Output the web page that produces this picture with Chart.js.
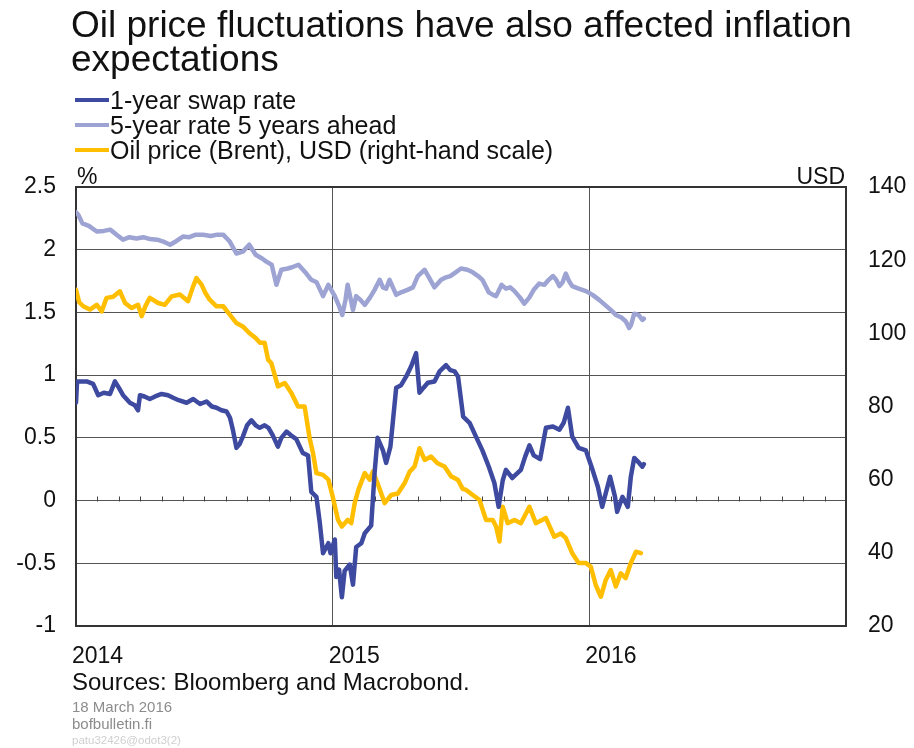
<!DOCTYPE html>
<html>
<head>
<meta charset="utf-8">
<title>Oil price fluctuations have also affected inflation expectations</title>
<script src="https://cdn.jsdelivr.net/npm/chart.js@4.4.0/dist/chart.umd.min.js"></script>
<style>
  body { margin: 0; background: #fff; font-family: "Liberation Sans", Arial, sans-serif; color: #111; }
  #wrap { position: relative; width: 914px; height: 748px; overflow: hidden; }
  #chart { position: absolute; left: 0; top: 0; }
  .txt { position: absolute; white-space: nowrap; }
  #title { left: 71px; top: 8px; font-size: 37px; line-height: 34px; }
  .leg { left: 110px; font-size: 25px; line-height: 25px; }
  .swatch { position: absolute; left: 75px; width: 34px; height: 4px; }
  .unit { top: 165px; font-size: 23px; line-height: 23px; }
  #sources { left: 72px; top: 670px; font-size: 24px; line-height: 24px; }
  .note { left: 72px; font-size: 15px; line-height: 18px; color: #8c8c8c; }
  #code { left: 72px; top: 733px; font-size: 11.5px; line-height: 14px; color: #cfcfcf; }
</style>
</head>
<body>
<div id="wrap">
  <canvas id="chart" width="914" height="748"></canvas>
  <div id="title" class="txt">Oil price fluctuations have also affected inflation<br>expectations</div>
  <div class="swatch" style="top:98px;background:#3d4a9f"></div>
  <div class="txt leg" style="top:88px">1-year swap rate</div>
  <div class="swatch" style="top:123px;background:#9da3d3"></div>
  <div class="txt leg" style="top:113px">5-year rate 5 years ahead</div>
  <div class="swatch" style="top:148px;background:#ffbe00"></div>
  <div class="txt leg" style="top:138px">Oil price (Brent), USD (right-hand scale)</div>
  <div class="txt unit" style="left:77px">%</div>
  <div class="txt unit" style="right:69px">USD</div>
  <div id="sources" class="txt">Sources: Bloomberg and Macrobond.</div>
  <div class="txt note" style="top:698px">18 March 2016</div>
  <div class="txt note" style="top:715px">bofbulletin.fi</div>
  <div id="code" class="txt">patu32426@odot3(2)</div>
</div>
<script>
// months counted from January 2014
const yearLabels = ['2014', '2015', '2016', ''];

// 1-year swap rate, %
const swapMonths = [0.00, 0.05, 0.5, 0.8, 1.04, 1.3, 1.59, 1.82, 2.0, 2.2, 2.52, 2.75, 2.9, 2.99, 3.2, 3.45, 3.7, 4.0, 4.3, 4.54,
  4.8, 5.17, 5.48, 5.8, 6.1, 6.35, 6.57, 6.8, 7.04, 7.2, 7.34, 7.5, 7.65, 7.8, 8.0, 8.2, 8.4, 8.59, 8.82, 9.0,
  9.2, 9.44, 9.6, 9.84, 10.05, 10.3, 10.6, 10.85, 11.0, 11.24, 11.4, 11.55, 11.8, 11.9, 12.1, 12.17, 12.3, 12.43, 12.56, 12.8,
  12.95, 13.1, 13.34, 13.5, 13.8, 13.96, 14.1, 14.35, 14.5, 14.7, 14.97, 15.2, 15.44, 15.67, 15.9, 16.06, 16.25, 16.45, 16.76, 17.0,
  17.3, 17.5, 17.7, 17.86, 18.1, 18.4, 18.7, 19.0, 19.3, 19.56, 19.76, 19.95, 20.1, 20.4, 20.8, 21.0, 21.2, 21.4, 21.7, 21.97,
  22.3, 22.6, 22.8, 23.0, 23.2, 23.5, 23.84, 24.15, 24.4, 24.6, 24.97, 25.2, 25.3, 25.55, 25.8, 25.94, 26.1, 26.33, 26.48, 26.55];
const swapRate = [0.78, 0.95, 0.95, 0.93, 0.84, 0.86, 0.85, 0.95, 0.90, 0.84, 0.78, 0.76, 0.72, 0.84, 0.83, 0.81, 0.83, 0.85, 0.84, 0.82,
  0.80, 0.78, 0.81, 0.77, 0.79, 0.75, 0.74, 0.72, 0.71, 0.66, 0.56, 0.42, 0.45, 0.51, 0.60, 0.64, 0.60, 0.58, 0.60, 0.58,
  0.52, 0.43, 0.50, 0.55, 0.52, 0.49, 0.38, 0.36, 0.07, 0.03, -0.18, -0.42, -0.34, -0.42, -0.31, -0.61, -0.55, -0.77, -0.56, -0.51,
  -0.67, -0.37, -0.34, -0.26, -0.20, 0.22, 0.50, 0.40, 0.30, 0.43, 0.90, 0.92, 0.99, 1.07, 1.175, 0.86, 0.90, 0.94, 0.95, 1.03,
  1.08, 1.04, 1.03, 0.99, 0.67, 0.62, 0.51, 0.40, 0.27, 0.14, -0.05, 0.16, 0.245, 0.18, 0.245, 0.35, 0.44, 0.36, 0.33, 0.58,
  0.59, 0.565, 0.62, 0.74, 0.51, 0.42, 0.40, 0.245, 0.11, -0.05, 0.19, 0.03, -0.09, 0.03, -0.05, 0.19, 0.34, 0.30, 0.27, 0.29];

// 5-year rate 5 years ahead, %
const fwdMonths = [0.0, 0.1, 0.3, 0.6, 0.97, 1.3, 1.6, 1.9, 2.2, 2.5, 2.83, 3.15, 3.46, 3.8, 4.08, 4.4, 4.7, 5.0, 5.3, 5.6,
  5.94, 6.3, 6.6, 6.88, 7.19, 7.5, 7.8, 8.1, 8.4, 8.7, 8.9, 9.15, 9.37, 9.6, 9.9, 10.1, 10.4, 10.77, 11.0, 11.25,
  11.55, 11.8, 12.1, 12.3, 12.45, 12.6, 12.7, 12.95, 13.1, 13.3, 13.5, 13.75, 13.96, 14.2, 14.35, 14.5, 14.66, 14.97, 15.2, 15.5,
  15.75, 15.98, 16.3, 16.5, 16.76, 17.07, 17.3, 17.5, 17.75, 18.0, 18.3, 18.55, 18.8, 19.0, 19.3, 19.5, 19.64, 19.9, 20.1, 20.3,
  20.5, 20.75, 20.96, 21.2, 21.4, 21.66, 21.9, 22.1, 22.3, 22.45, 22.6, 22.75, 22.9, 23.05, 23.2, 23.5, 23.84, 24.15, 24.46, 24.8,
  25.0, 25.24, 25.5, 25.7, 25.86, 25.95, 26.1, 26.3, 26.48, 26.55];
const fwdRate = [2.30, 2.28, 2.21, 2.19, 2.145, 2.15, 2.16, 2.12, 2.08, 2.10, 2.09, 2.10, 2.085, 2.08, 2.065, 2.04, 2.07, 2.105, 2.10, 2.12,
  2.12, 2.11, 2.12, 2.12, 2.065, 1.97, 1.985, 2.04, 1.96, 1.93, 1.905, 1.88, 1.72, 1.84, 1.85, 1.86, 1.88, 1.81, 1.76, 1.74,
  1.63, 1.72, 1.63, 1.55, 1.48, 1.60, 1.72, 1.52, 1.63, 1.60, 1.56, 1.62, 1.68, 1.76, 1.70, 1.69, 1.76, 1.64, 1.66, 1.68,
  1.70, 1.79, 1.84, 1.78, 1.70, 1.76, 1.78, 1.79, 1.82, 1.85, 1.84, 1.82, 1.79, 1.76, 1.66, 1.64, 1.63, 1.72, 1.69, 1.70,
  1.67, 1.62, 1.57, 1.62, 1.68, 1.73, 1.72, 1.76, 1.79, 1.76, 1.71, 1.74, 1.81, 1.75, 1.71, 1.69, 1.67, 1.64, 1.60, 1.55,
  1.52, 1.48, 1.46, 1.43, 1.375, 1.40, 1.49, 1.48, 1.44, 1.45];

// Brent oil price, USD (right-hand scale)
const oilMonths = [0.0, 0.15, 0.34, 0.65, 0.97, 1.2, 1.43, 1.74, 2.05, 2.29, 2.6, 2.9, 3.07, 3.25, 3.45, 3.84, 4.15, 4.47, 4.86, 5.24,
  5.48, 5.63, 5.87, 6.05, 6.25, 6.57, 6.88, 7.19, 7.5, 7.8, 8.1, 8.4, 8.6, 8.82, 8.98, 9.13, 9.44, 9.76, 10.07, 10.38,
  10.69, 10.92, 11.08, 11.24, 11.55, 11.8, 12.0, 12.25, 12.43, 12.7, 12.87, 13.03, 13.2, 13.5, 13.73, 13.88, 14.1, 14.43, 14.74, 15.05,
  15.36, 15.6, 15.83, 16.06, 16.3, 16.6, 16.9, 17.23, 17.54, 17.85, 18.08, 18.24, 18.55, 18.86, 19.17, 19.48, 19.64, 19.8, 19.95, 20.18,
  20.5, 20.8, 21.2, 21.5, 21.97, 22.36, 22.67, 22.9, 23.2, 23.5, 23.84, 24.07, 24.3, 24.54, 24.77, 25.0, 25.24, 25.47, 25.7, 25.94,
  26.18, 26.41];
const oilPrice = [111.9, 108.5, 107.4, 106.5, 107.8, 106.0, 109.7, 110.0, 111.5, 108.3, 106.9, 107.8, 104.7, 107.5, 109.7, 108.3, 107.8, 110.1, 110.6, 108.8,
  112.9, 115.1, 113.3, 111.0, 109.2, 107.4, 107.4, 105.1, 102.8, 101.9, 100.1, 98.7, 97.4, 97.4, 92.8, 91.9, 85.5, 86.4, 83.7, 80.0,
  80.0, 71.4, 67.3, 61.8, 61.3, 60.0, 55.4, 49.0, 47.2, 49.0, 48.1, 53.6, 57.2, 61.8, 60.0, 62.2, 59.0, 53.6, 55.8, 56.2,
  59.0, 62.2, 63.6, 68.6, 65.4, 66.3, 64.5, 63.6, 60.9, 60.0, 57.5, 57.2, 55.8, 54.5, 49.0, 49.0, 47.2, 43.1, 52.6, 48.1,
  49.0, 48.1, 52.6, 48.1, 49.5, 44.4, 45.3, 44.0, 39.9, 37.2, 37.2, 36.2, 31.2, 28.0, 32.6, 35.3, 30.8, 34.4, 33.1, 37.2,
  40.3, 39.9];

const colors = { swap: '#3d4a9f', fwd: '#9da3d3', oil: '#ffbe00' };
const toPoints = (xs, ys) => xs.map((x, i) => ({ x: x, y: ys[i] }));

// frame round the plot and the small month ticks on the zero line
const plotFrame = {
  id: 'plotFrame',
  beforeDatasetsDraw(chart) {
    const { ctx, chartArea: a, scales } = chart;
    const y0 = Math.round(scales.y.getPixelForValue(0)) + 0.5;
    ctx.save();
    ctx.strokeStyle = '#444';
    ctx.lineWidth = 1;
    for (let m = 1; m < 36; m++) {
      if (m % 12 === 0) continue;
      const x = Math.round(scales.x.getPixelForValue(m)) + 0.5;
      ctx.beginPath();
      ctx.moveTo(x, y0);
      ctx.lineTo(x, y0 - 5);
      ctx.stroke();
    }
    ctx.strokeStyle = '#333';
    ctx.lineWidth = 2;
    ctx.strokeRect(a.left, a.top, a.right - a.left, a.bottom - a.top);
    ctx.restore();
  }
};

const tickFont = { family: '"Liberation Sans", Arial, sans-serif', size: 23 };

new Chart(document.getElementById('chart'), {
  type: 'line',
  data: {
    datasets: [
      { label: '1-year swap rate', data: toPoints(swapMonths, swapRate), yAxisID: 'y', borderColor: colors.swap },
      { label: '5-year rate 5 years ahead', data: toPoints(fwdMonths, fwdRate), yAxisID: 'y', borderColor: colors.fwd },
      { label: 'Oil price (Brent), USD (right-hand scale)', data: toPoints(oilMonths, oilPrice), yAxisID: 'y2', borderColor: colors.oil }
    ]
  },
  options: {
    responsive: false,
    animation: false,
    devicePixelRatio: 1,
    layout: { padding: { top: 187, left: 0, right: 0, bottom: 0 } },
    elements: {
      line: { borderWidth: 4.5, tension: 0, borderJoinStyle: 'round', borderCapStyle: 'round' },
      point: { radius: 0 }
    },
    plugins: { legend: { display: false }, tooltip: { enabled: false } },
    scales: {
      x: {
        type: 'linear', min: 0, max: 36,
        afterFit: s => { s.height = 122; },
        border: { display: false },
        grid: { color: '#555', lineWidth: 1, drawTicks: false },
        ticks: {
          stepSize: 12, align: 'start', labelOffset: -4, padding: 17,
          color: '#111', font: tickFont, maxRotation: 0,
          callback: v => yearLabels[v / 12]
        }
      },
      y: {
        position: 'left', min: -1, max: 2.5,
        afterFit: s => { s.width = 76; },
        border: { display: false },
        grid: { color: '#555', lineWidth: 1, drawTicks: false },
        ticks: { stepSize: 0.5, padding: 20, color: '#111', font: tickFont, callback: v => String(v) }
      },
      y2: {
        position: 'right', min: 20, max: 140,
        afterFit: s => { s.width = 68; },
        border: { display: false },
        grid: { display: false, drawTicks: false },
        ticks: { stepSize: 20, padding: 22, color: '#111', font: tickFont }
      }
    }
  },
  plugins: [plotFrame]
});
</script>
</body>
</html>
